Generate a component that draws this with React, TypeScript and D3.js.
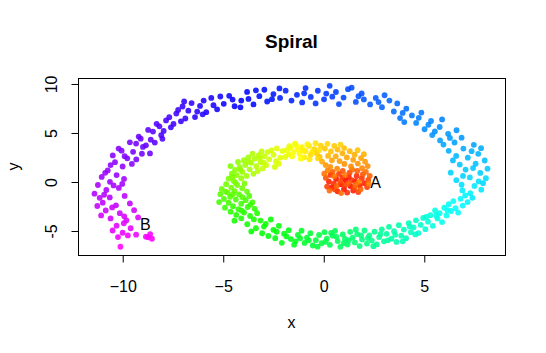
import * as React from 'react';
import * as d3 from 'd3';

type Pt = [number, number];

// Points, in order from the centre (A) out to the tail (B).
// Colour follows that order.
const CORE: Pt[] = [
    [1.12, 0.14], [0.87, -0.22], [1.35, -0.41], [0.64, 0.31], [1.58, 0.05], [1.03, -0.73],
    [0.42, -0.55], [1.81, -0.36], [1.27, 0.52], [0.71, -0.95], [1.49, -0.88], [0.28, 0.04],
    [2.05, -0.12], [0.95, 0.43], [1.66, 0.61], [0.53, -0.18], [1.19, -1.08], [1.92, 0.37],
    [0.36, 0.72], [1.41, 0.19], [0.78, 0.82], [2.18, -0.51], [1.74, -1.02], [0.19, -0.47],
    [1.06, -0.35], [0.58, -0.76], [2.24, 0.22], [1.31, 0.95], [0.84, 0.05], [1.55, -0.58],
    [0.13, 0.41], [1.97, 0.79], [0.97, 1.12], [0.46, 1.02], [1.69, 1.13], [2.31, 0.63],
    [1.23, -0.17], [0.67, -0.41], [1.86, -0.74], [0.31, -0.88], [1.44, 1.27], [2.12, 1.04],
    [0.89, -1.13], [0.05, 0.85], [1.61, -0.28], [0.55, 0.58], [1.09, 0.71], [2.26, -0.17],
    [1.78, 0.02], [0.22, 1.19],
    [1.93, 1.41], [0.69, 1.36], [1.38, 1.58], [2.21, 1.62], [0.35, 1.55], [1.05, 1.84],
    [1.72, 1.88], [0.12, 1.73], [2.08, 2.07], [0.81, 2.13], [1.49, 2.26], [0.43, 2.21],
    [1.88, 2.44], [1.17, 2.51], [-0.06, 2.08], [0.62, 2.62], [1.56, 2.79], [0.95, 2.92],
    [2.02, 2.83], [0.24, 2.66], [1.32, 3.14], [0.71, 3.31], [-0.18, 2.55], [1.04, 3.46],
    [0.38, 3.12], [1.71, 3.25], [0.08, 3.41], [0.55, 3.68], [-0.33, 2.93], [0.86, 3.82],
    [-0.12, 3.72], [-0.45, 3.35], [-0.27, 2.41], [0.21, 3.89], [-0.62, 2.79], [-0.21, 3.25],
    [-0.71, 3.68], [-0.38, 3.95], [-0.55, 3.08], [-0.68, 2.31], [-0.88, 3.14], [-0.94, 2.52],
    [-1.02, 3.21], [-1.06, 3.56], [-0.79, 3.87], [-1.18, 2.87], [-1.27, 3.34], [-1.35, 3.74],
    [-1.12, 2.38], [-1.48, 3.05], [-1.55, 2.61], [-1.62, 3.48], [-1.41, 3.92], [-1.73, 2.84],
    [-1.81, 3.27], [-1.69, 3.66], [-1.89, 2.55]
];

const INNER_LEFT: Pt[] = [
    [-2.03, 3.15], [-2.14, 2.48], [-2.31, 3.42], [-2.22, 1.86], [-2.35, 2.12], [-2.47, 2.77],
    [-2.58, 3.21], [-2.41, 1.53], [-2.69, 2.31], [-2.77, 3.05], [-2.84, 1.72], [-2.95, 1.95],
    [-2.93, 2.62], [-3.01, 1.38], [-3.07, 3.12], [-3.15, 2.45], [-3.12, 2.04], [-3.21, 2.73],
    [-3.26, 1.12], [-3.33, 1.61], [-3.41, 2.38], [-3.52, 2.89], [-3.47, 0.83], [-3.58, 1.95],
    [-3.7, 2.05], [-3.66, 1.29], [-3.73, 2.51], [-3.81, 0.62], [-3.88, 1.74], [-3.95, 2.22],
    [-4.02, 1.03], [-4.12, 1.25], [-4.08, 0.38], [-4.16, 1.52], [-4.24, 2.04], [-4.31, 0.71],
    [-4.39, 1.23], [-4.47, 0.12], [-4.52, 0.52], [-4.55, 0.84], [-4.62, 1.62], [-4.71, 0.35],
    [-3.92, -0.15], [-4.37, -0.05], [-4.28, -0.31], [-4.83, -0.22], [-4.58, -0.57],
    [-4.03, -0.64], [-5.05, -0.71], [-4.41, -0.93], [-4.86, -0.98], [-4.76, -1.08],
    [-3.79, -0.98], [-4.5, -1.25], [-5.12, -1.24], [-4.19, -1.27], [-4.63, -1.51],
    [-4.02, -1.55], [-3.68, -1.43], [-4.94, -1.73], [-4.35, -1.79], [-3.86, -1.86],
    [-5.18, -2.05], [-4.71, -2.12], [-4.08, -2.21], [-3.52, -2.08], [-3.62, -2.32],
    [-4.49, -2.47], [-4.89, -2.62], [-3.76, -2.55], [-4.22, -2.78], [-3.41, -2.74],
    [-4.05, -2.93], [-4.61, -3.03], [-3.94, -3.12], [-3.29, -3.18], [-4.33, -3.36],
    [-3.64, -3.47], [-4.08, -3.71], [-3.45, -3.82], [-4.42, -3.95]
];

const BOTTOM: Pt[] = [
    [-3.12, -3.94], [-3.78, -4.31], [-2.86, -4.27], [-3.35, -4.72], [-2.95, -4.55],
    [-2.61, -3.83], [-3.58, -5.04], [-2.48, -4.88], [-3.04, -5.23], [-2.21, -4.47],
    [-2.32, -5.08], [-2.73, -5.51], [-1.95, -5.27], [-2.39, -5.74], [-2.06, -6.21],
    [-1.83, -5.55], [-1.72, -4.92], [-1.61, -5.83], [-1.45, -6.4], [-1.38, -6.05],
    [-1.26, -5.41], [-1.15, -5.75], [-1.08, -4.97], [-0.93, -6.22], [-0.81, -5.68],
    [-0.72, -5.95], [-0.64, -5.22], [-0.52, -6.48], [-0.37, -5.94], [-0.28, -6.6],
    [-0.21, -5.41], [-0.08, -6.25], [0.06, -5.12], [0.12, -6.1], [0.18, -5.78], [0.33, -6.41],
    [0.39, -5.2], [0.47, -5.48], [0.59, -4.98], [0.66, -5.6], [0.72, -6.03], [0.85, -6.62],
    [0.97, -5.36], [1.02, -6.25], [1.08, -5.81], [1.21, -6.38], [1.27, -5.95], [1.34, -5.09],
    [1.46, -5.67], [1.57, -6.17], [1.62, -4.85], [1.69, -5.31], [1.81, -6.54], [1.88, -5.45],
    [1.93, -5.88], [2.05, -4.95], [2.17, -6.28], [2.22, -5.72], [2.29, -5.44], [2.41, -5.96],
    [2.49, -6.55], [2.55, -5.08], [2.66, -6.37], [2.78, -5.62], [2.85, -5.32], [2.91, -4.83],
    [3.02, -6.05], [3.15, -5.29], [3.21, -5.95], [3.27, -4.58], [3.39, -5.78], [3.52, -5.02],
    [3.58, -5.38], [3.64, -6.12], [3.76, -4.41], [3.88, -5.48], [3.95, -6.05], [4.01, -4.86],
    [4.12, -5.73], [4.25, -4.19], [4.3, -4.55], [4.36, -5.12], [4.49, -4.63], [4.58, -5.35],
    [4.61, -3.91], [4.73, -5.21], [4.85, -4.38], [4.97, -3.67], [5.08, -4.82], [5.12, -3.55],
    [5.21, -4.05], [5.33, -3.39], [5.45, -4.47], [5.56, -2.91], [5.62, -3.42], [5.68, -3.72],
    [5.79, -3.18], [5.91, -4.09], [6.02, -2.63], [6.13, -3.41], [6.18, -2.88], [6.24, -2.27],
    [6.36, -2.96], [6.47, -1.95], [6.58, -2.68], [6.71, -3.12], [6.83, -1.72], [6.94, -2.41],
    [7.06, -1.38], [7.18, -2.05], [7.31, -1.14], [6.92, -0.86], [7.42, -1.62]
];

const RIGHT_TOP: Pt[] = [
    [7.52, -0.41], [7.86, -0.78], [7.73, 0.06], [6.88, -0.28], [8.09, 0.38], [7.29, 0.47],
    [6.62, 0.18], [7.95, -0.12], [6.95, 0.62], [6.34, 0.95], [7.81, 0.92], [8.17, 1.36],
    [7.08, 1.27], [7.45, 1.42], [6.79, 1.78], [7.58, 1.86], [8.03, 2.19], [6.45, 2.2],
    [7.19, 2.48], [6.61, 2.66], [7.71, 2.87], [7.38, 3.14], [6.24, 3.18], [7.85, 3.45],
    [6.97, 3.41], [5.98, 3.82], [7.49, 3.79], [6.53, 4.03], [5.81, 4.24], [6.3, 4.5],
    [6.88, 4.52], [6.21, 4.91], [5.42, 4.79], [6.63, 5.28], [5.55, 5.15], [5.79, 5.61],
    [5.04, 5.38], [5.23, 5.84], [5.36, 6.22], [4.62, 6.03], [5.91, 6.38], [4.75, 6.55],
    [4.03, 6.11], [4.41, 6.79], [4.88, 7.08], [3.82, 6.52], [3.95, 7.05], [4.13, 7.48],
    [3.51, 7.19], [3.68, 8.02], [3.29, 8.31], [2.92, 7.63], [2.75, 8.15], [3.05, 8.85],
    [2.61, 8.58], [2.33, 7.91], [2.02, 8.42], [1.75, 8.75], [1.91, 9.03], [1.62, 8.17],
    [1.41, 9.62], [1.23, 9.47], [1.01, 8.61], [0.78, 7.95], [0.63, 9.18], [0.45, 8.7],
    [0.32, 9.81], [0.15, 9.02], [0.04, 8.43], [-0.38, 8.02], [-0.27, 9.31], [-0.62, 8.68],
    [-0.88, 9.58], [-0.95, 9.05], [-1.05, 8.12], [-1.31, 8.89], [-1.58, 8.31], [-1.87, 9.32],
    [-2.15, 8.58], [-2.18, 9.55], [-2.48, 8.97], [-2.55, 8.45], [-2.79, 8.21], [-2.93, 9.41],
    [-3.18, 8.76], [-3.35, 9.35], [-3.47, 7.91], [-3.72, 8.48], [-3.79, 9.19], [-4.08, 8.31],
    [-4.12, 7.62], [-4.41, 7.73], [-4.51, 8.41], [-4.68, 8.79]
];

const OUTER_LEFT: Pt[] = [
    [-4.95, 7.98], [-5.28, 7.41], [-5.12, 8.72], [-5.57, 8.58], [-5.46, 7.83], [-5.82, 7.12],
    [-5.95, 8.31], [-6.13, 7.76], [-6.0, 6.9], [-6.38, 6.62], [-6.27, 7.18], [-6.71, 7.28],
    [-6.55, 8.05], [-6.92, 8.21], [-7.0, 7.7], [-6.86, 6.48], [-7.08, 6.19], [-7.22, 7.35],
    [-7.31, 6.98], [-7.45, 5.92], [-7.58, 5.58], [-7.66, 6.61], [-7.82, 6.28], [-7.94, 5.21],
    [-8.06, 4.78], [-8.0, 4.4], [-8.15, 5.68], [-8.29, 5.93], [-8.38, 4.02], [-8.47, 5.14],
    [-8.58, 4.32], [-8.71, 5.31], [-8.82, 3.74], [-8.97, 3.58], [-9.08, 4.42], [-9.18, 4.63],
    [-8.62, 2.91], [-9.02, 2.88], [-9.31, 3.92], [-9.46, 3.08], [-9.62, 4.05], [-9.3, 2.3],
    [-9.75, 2.41], [-9.88, 2.63], [-10.03, 3.19], [-10.18, 3.41], [-10.47, 2.71],
    [-9.52, 1.84], [-10.36, 2.02], [-10.58, 1.73], [-9.98, 1.58], [-10.72, 1.18],
    [-10.28, 0.71], [-10.85, 0.93], [-11.02, 0.52], [-10.61, 0.02], [-9.91, 0.31],
    [-10.0, -0.2], [-11.21, -0.31], [-10.43, -0.35], [-10.79, -0.82], [-10.17, -0.61],
    [-11.38, -1.19], [-10.9, -1.3], [-10.62, -1.58], [-9.88, -1.42], [-11.12, -1.62],
    [-10.97, -2.11], [-10.31, -2.38], [-9.62, -2.19], [-11.24, -2.45], [-10.5, -2.6],
    [-10.82, -2.91], [-10.12, -3.18], [-9.41, -2.88], [-11.05, -3.41], [-10.58, -3.72],
    [-9.9, -3.5], [-9.79, -3.91], [-9.21, -3.62], [-10.28, -4.46], [-9.92, -4.21],
    [-9.58, -4.72], [-10.48, -4.95], [-9.98, -5.18], [-9.31, -5.38], [-10.21, -5.62],
    [-9.72, -5.45], [-8.82, -5.58], [-8.61, -5.31], [-8.52, -5.79], [-8.71, -5.65],
    [-10.09, -6.61]
];

const X_TICKS = [-10, -5, 0, 5];
const Y_TICKS = [-5, 0, 5, 10];
const POINT_LABELS = [
    { text: 'A', x: 2.6, y: 0 },
    { text: 'B', x: -8.85, y: -4.3 }
];

const FONT = '"Liberation Sans", Arial, Helvetica, sans-serif';

const App: React.FC = () => {
    const svgRef = React.useRef<SVGSVGElement>(null);

    React.useEffect(() => {
        document.body.style.margin = '0';
        const svg = d3.select(svgRef.current);
        svg.selectAll('*').remove();

        const PLOT = { left: 78, right: 505, top: 78, bottom: 255 };
        const xScale = d3.scaleLinear().domain([-12.2, 9.04]).range([PLOT.left, PLOT.right]);
        const yScale = d3.scaleLinear().domain([-7.45, 10.61]).range([PLOT.bottom, PLOT.top]);

        const data = [...CORE, ...INNER_LEFT, ...BOTTOM, ...RIGHT_TOP, ...OUTER_LEFT];
        const hue = d3.scaleLinear().domain([0, data.length - 1]).range([0, 300]);

        /** ******** Points ********* */
        svg.append('g')
            .selectAll('circle')
            .data(data)
            .enter()
            .append('circle')
            .attr('cx', (d) => xScale(d[0]))
            .attr('cy', (d) => yScale(d[1]))
            .attr('r', 2.9)
            .attr('fill', (_d, i) => d3.hsl(hue(i), 1, 0.5).toString())
            .attr('fill-opacity', 0.88);

        /** ******** Box ********* */
        svg.append('rect')
            .attr('x', PLOT.left + 0.5)
            .attr('y', PLOT.top + 0.5)
            .attr('width', PLOT.right - PLOT.left)
            .attr('height', PLOT.bottom - PLOT.top)
            .attr('fill', 'none')
            .attr('stroke', '#000');

        /** ******** Axes ********* */
        const xAxis = d3.axisBottom(xScale).tickValues(X_TICKS).tickSize(7).tickPadding(0).tickFormat(d3.format('d'));
        const xg = svg.append('g').attr('transform', `translate(0.5,${PLOT.bottom + 0.5})`).call(xAxis);
        xg.select('.domain').remove();
        xg.selectAll('line').attr('stroke', '#000');
        xg.selectAll('text')
            .attr('y', 36)
            .attr('dy', null)
            .attr('fill', '#000')
            .attr('font-size', 16)
            .attr('font-family', FONT);
        svg.append('line')
            .attr('x1', xScale(X_TICKS[0]) + 0.5)
            .attr('x2', xScale(X_TICKS[X_TICKS.length - 1]) + 0.5)
            .attr('y1', PLOT.bottom + 0.5)
            .attr('y2', PLOT.bottom + 0.5)
            .attr('stroke', '#000');

        const yg = svg.append('g').attr('transform', `translate(${PLOT.left + 0.5},0.5)`);
        Y_TICKS.forEach((t) => {
            const y = yScale(t);
            yg.append('line').attr('x1', -7).attr('x2', 0).attr('y1', y).attr('y2', y).attr('stroke', '#000');
            yg.append('text')
                .attr('transform', `translate(-22,${y}) rotate(-90)`)
                .attr('text-anchor', 'middle')
                .attr('font-size', 16)
                .attr('font-family', FONT)
                .text(String(t));
        });

        /** ******** Titles ********* */
        svg.append('text')
            .attr('x', (PLOT.left + PLOT.right) / 2)
            .attr('y', 48)
            .attr('text-anchor', 'middle')
            .attr('font-size', 19)
            .attr('font-weight', 'bold')
            .attr('font-family', FONT)
            .text('Spiral');
        svg.append('text')
            .attr('x', (PLOT.left + PLOT.right) / 2)
            .attr('y', 328)
            .attr('text-anchor', 'middle')
            .attr('font-size', 16)
            .attr('font-family', FONT)
            .text('x');
        svg.append('text')
            .attr('transform', `translate(19,${(PLOT.top + PLOT.bottom) / 2}) rotate(-90)`)
            .attr('text-anchor', 'middle')
            .attr('font-size', 16)
            .attr('font-family', FONT)
            .text('y');

        /** ******** Point labels ********* */
        svg.append('g')
            .selectAll('text')
            .data(POINT_LABELS)
            .enter()
            .append('text')
            .attr('x', (d) => xScale(d.x))
            .attr('y', (d) => yScale(d.y))
            .attr('dy', '0.36em')
            .attr('text-anchor', 'middle')
            .attr('font-size', 16)
            .attr('font-family', FONT)
            .text((d) => d.text);
    });

    return <svg ref={svgRef} width={546} height={353} style={{ display: 'block' }} />;
};

export default App;
